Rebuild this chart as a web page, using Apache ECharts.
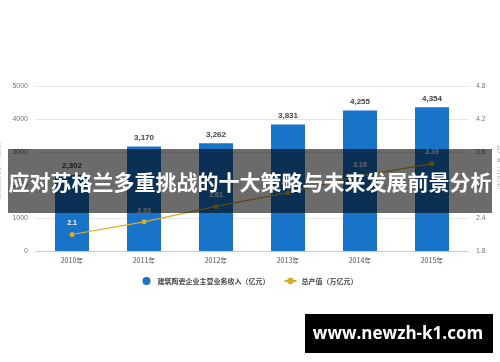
<!DOCTYPE html>
<html><head><meta charset="utf-8">
<script src="https://cdn.jsdelivr.net/npm/echarts@6/dist/echarts.min.js"></script>
<style>html,body{margin:0;padding:0;background:#fff}#c{width:500px;height:362px}</style>
</head><body><div id="c"></div>
<script>
var categories = ['2010年','2011年','2012年','2013年','2014年','2015年'];
var revenue = [2302, 3170, 3262, 3831, 4255, 4354];
var output = [2.1, 2.33, 2.61, 2.86, 3.16, 3.39];
var leftTicks = [0, 1000, 2000, 3000, 4000, 5000];
var rightTicks = [1.8, 2.4, 3.0, 3.6, 4.2, 4.8];
var revenueName = '建筑陶瓷企业主营业务收入（亿元）';
var outputName = '总产值（万亿元）';
var bannerText = '应对苏格兰多重挑战的十大策略与未来发展前景分析';
var siteText = 'www.newzh-k1.com';

var chart = echarts.init(document.getElementById('c'));
chart.setOption({
  animation: false,
  grid: {left: 36, right: 32, top: 86, bottom: 111, outerBoundsMode: 'none', containLabel: false},
  legend: {
    top: 272, left: 'center', itemWidth: 12, itemHeight: 8, itemGap: 14,
    textStyle: {fontSize: 7, color: '#444', fontWeight: 'bold', fontFamily: 'Noto Sans CJK SC'},
    data: [{name: revenueName, icon: 'circle'}, {name: outputName}]
  },
  xAxis: {
    type: 'category', data: categories,
    axisLine: {lineStyle: {color: '#ccc'}}, axisTick: {show: false},
    axisLabel: {fontSize: 7, color: '#555', margin: 6, fontFamily: 'Noto Sans CJK SC'}
  },
  yAxis: [{
    type: 'value', min: leftTicks[0], max: leftTicks[leftTicks.length-1], interval: 1000,
    name: '主营业务收入（亿元）', nameLocation: 'middle', nameGap: 24, nameRotate: 90,
    nameTextStyle: {fontSize: 6, color: '#999'},
    axisLine: {show: false}, axisTick: {show: false},
    axisLabel: {fontSize: 7, color: '#777', margin: 8, formatter: function(v){return String(v);}},
    splitLine: {lineStyle: {color: '#e6e6e6'}}
  }, {
    type: 'value', min: rightTicks[0], max: rightTicks[rightTicks.length-1], interval: 0.6,
    name: '总产值（万亿元）', nameLocation: 'middle', nameGap: 20, nameRotate: -90,
    nameTextStyle: {fontSize: 6, color: '#999'},
    axisLine: {show: false}, axisTick: {show: false},
    axisLabel: {fontSize: 7, color: '#777', margin: 8, formatter: function(v){return v.toFixed(1);}},
    splitLine: {show: false}
  }],
  series: [{
    name: revenueName, type: 'bar', data: revenue, barWidth: 34,
    itemStyle: {color: '#1874c8'},
    label: {show: true, position: 'top', fontSize: 8, color: '#444', fontWeight: 'bold', distance: 5,
      formatter: function(p){return p.value.toLocaleString('en-US');}}
  }, {
    name: outputName, type: 'line', yAxisIndex: 1, data: output,
    lineStyle: {color: '#d8ab2a', width: 1.2}, itemStyle: {color: '#d8ab2a'},
    symbol: 'circle', symbolSize: 5,
    label: {show: true, position: 'top', fontSize: 7, color: '#f4f4f4', fontWeight: 'bold', distance: 5,
      formatter: function(p){return String(p.value);}}
  }],
  graphic: [{
    type: 'rect', z: 100, shape: {x: 8, y: 149, width: 484, height: 64},
    style: {fill: 'rgba(0,0,0,0.58)'}
  }, {
    type: 'text', z: 101, x: 250, y: 182,
    style: {text: bannerText, fill: '#fff', font: 'bold 21px "Noto Sans CJK SC"', align: 'center', verticalAlign: 'middle'}
  }, {
    type: 'rect', z: 100, shape: {x: 305, y: 314, width: 188, height: 39},
    style: {fill: '#000'}
  }, {
    type: 'text', z: 101, x: 398, y: 334,
    style: {text: siteText, fill: '#fff', font: 'bold 17px "Open Sans"', align: 'center', verticalAlign: 'middle'}
  }]
});
</script></body></html>
